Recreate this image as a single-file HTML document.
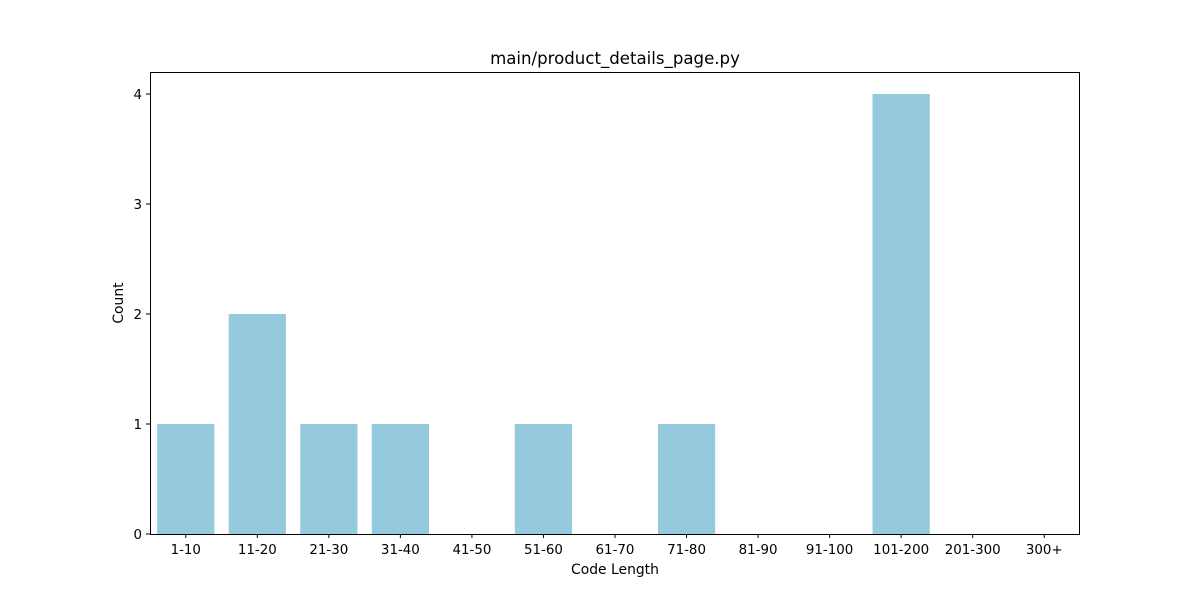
<!DOCTYPE html>
<html><head><meta charset="utf-8"><style>
body{margin:0;background:#fff;}
svg text{font-family:"DejaVu Sans","Liberation Sans",sans-serif;fill:#000;}
</style></head><body>
<svg id="chart" width="1200" height="600" xmlns="http://www.w3.org/2000/svg">
<rect width="1200" height="600" fill="#fff"/>
<text x="615" y="64" font-size="16.6" text-anchor="middle">main/product_details_page.py</text>
<g id="bars"></g>
<g id="xticks"></g>
<g id="yticks"></g>
<rect x="150.5" y="72.5" width="929" height="462" fill="none" stroke="#000" stroke-width="1"/>
<text x="615" y="574" font-size="13.9" text-anchor="middle">Code Length</text>
<text x="123" y="303" font-size="13.9" text-anchor="middle" transform="rotate(-90 123 303)">Count</text>
</svg>
<script>
const categories=["1-10","11-20","21-30","31-40","41-50","51-60","61-70","71-80","81-90","91-100","101-200","201-300","300+"];
const counts=[1,2,1,1,0,1,0,1,0,0,4,0,0];
const yTicks=[0,1,2,3,4];
const NS="http://www.w3.org/2000/svg";
const L=150,R=1080,T=72,B=534,yMax=4.2;
const step=(R-L)/categories.length;
const xc=i=>L+step*(i+0.5);
const y=v=>B-(v/yMax)*(B-T);
const bars=document.getElementById('bars'),xt=document.getElementById('xticks'),yt=document.getElementById('yticks');
function mk(tag,attrs,parent){const e=document.createElementNS(NS,tag);for(const k in attrs)e.setAttribute(k,attrs[k]);parent.appendChild(e);return e;}
categories.forEach((c,i)=>{
  const w=step*0.8;
  const r=mk('rect',{x:xc(i)-w/2,y:y(counts[i]),width:w,height:B-y(counts[i]),fill:'#95c9dd'},bars);
  
  
  const tk=mk('line',{x1:xc(i),x2:xc(i),y1:B,y2:B+4,stroke:'#000'},xt);
  
  
  const t=mk('text',{x:xc(i),y:B+20,'font-size':13.4,'text-anchor':'middle'},xt);
  t.textContent=c;
  
  
});
yTicks.forEach(v=>{
  const tk=mk('line',{x1:L-4,x2:L,y1:y(v),y2:y(v),stroke:'#000'},yt);
  
  
  const t=mk('text',{x:L-8,y:y(v)+5,'font-size':13.4,'text-anchor':'end'},yt);
  t.textContent=v;
  
  
});
</script>
</body></html>
